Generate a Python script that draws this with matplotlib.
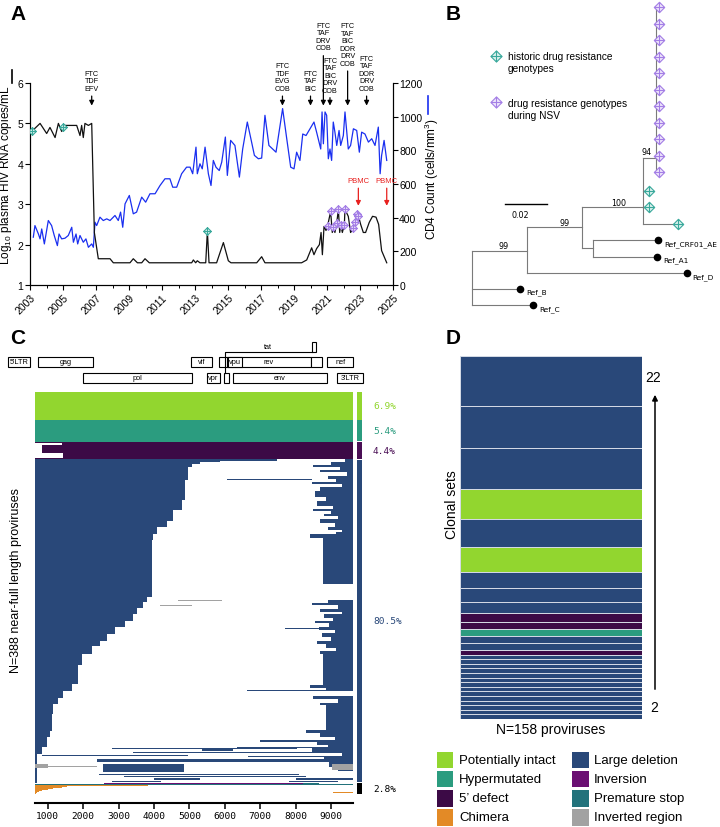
import numpy as np
import matplotlib
matplotlib.use("Agg")
from matplotlib import pyplot as plt
from matplotlib.path import Path
from matplotlib.patches import Rectangle, FancyArrowPatch
from matplotlib.lines import Line2D

plt.rcParams['font.family'] = ['Liberation Sans', 'DejaVu Sans']
plt.rcParams['mathtext.default'] = 'regular'

# ---------------- data: panel A ----------------
vl_year = [2003.10, 2003.61, 2004.01, 2004.21, 2004.52, 2004.72, 2004.92, 2005.12, 2005.42, 2005.83,
           2006.03, 2006.13, 2006.23, 2006.33, 2006.54, 2006.74, 2006.90, 2007.14, 2007.85, 2008.05,
           2009.06, 2009.26, 2009.51, 2009.77, 2009.97, 2010.23, 2012.80, 2012.90, 2013.04, 2013.14,
           2013.30, 2013.65, 2013.75, 2013.85, 2014.31, 2014.72, 2015.02, 2015.18, 2016.74, 2017.04,
           2017.24, 2019.46, 2019.77, 2020.07, 2020.21, 2020.37, 2020.54, 2020.64, 2020.72, 2020.82,
           2020.94, 2021.04, 2021.22, 2021.32, 2021.38, 2021.48, 2021.59, 2021.69, 2021.77, 2021.83,
           2021.93, 2022.05, 2022.09, 2022.29, 2022.43, 2022.60, 2022.70, 2022.80, 2022.90, 2023.04,
           2023.20, 2023.34, 2023.56, 2023.76, 2023.97, 2024.13, 2024.31, 2024.62]
vl_value = [4.80, 5.00, 4.75, 4.90, 4.65, 5.00, 4.80, 4.95, 4.95, 4.95,
            4.70, 4.95, 4.65, 5.00, 4.95, 5.00, 2.30, 1.65, 1.65, 1.55,
            1.55, 1.65, 1.55, 1.55, 1.65, 1.55, 1.55, 1.62, 1.55, 1.60,
            1.55, 1.55, 2.33, 1.55, 1.55, 2.05, 1.60, 1.55, 1.55, 1.70,
            1.55, 1.55, 1.62, 1.92, 1.75, 1.90, 2.00, 2.30, 1.75, 2.45,
            2.35, 2.47, 2.82, 2.30, 2.43, 2.30, 2.54, 2.87, 2.30, 2.49,
            2.30, 2.49, 2.87, 2.70, 2.30, 2.40, 2.57, 2.76, 2.72, 2.50,
            2.30, 2.30, 2.55, 2.70, 2.68, 2.50, 1.85, 1.55]

cd4_year = [2003.20, 2003.30, 2003.51, 2003.61, 2003.71, 2003.87, 2004.11, 2004.31, 2004.47, 2004.66,
            2004.76, 2004.92, 2005.12, 2005.32, 2005.53, 2005.63, 2005.79, 2005.89, 2006.03, 2006.23,
            2006.39, 2006.54, 2006.74, 2006.84, 2006.94, 2007.04, 2007.24, 2007.44, 2007.65, 2007.85,
            2008.15, 2008.35, 2008.49, 2008.62, 2008.76, 2009.02, 2009.26, 2009.46, 2009.77, 2010.01,
            2010.27, 2010.58, 2010.88, 2011.18, 2011.48, 2011.65, 2011.89, 2012.19, 2012.49, 2012.70,
            2012.86, 2013.06, 2013.14, 2013.30, 2013.44, 2013.61, 2013.81, 2013.97, 2014.11, 2014.27,
            2014.47, 2014.62, 2014.84, 2014.96, 2015.16, 2015.42, 2015.69, 2015.89, 2016.17, 2016.43,
            2016.60, 2016.84, 2017.04, 2017.24, 2017.48, 2017.91, 2018.31, 2018.56, 2018.80, 2019.00,
            2019.16, 2019.36, 2019.53, 2019.73, 2020.21, 2020.37, 2020.62, 2020.70, 2020.78, 2020.88,
            2020.98, 2021.08, 2021.18, 2021.28, 2021.38, 2021.48, 2021.59, 2021.73, 2021.83, 2021.99,
            2022.09, 2022.29, 2022.43, 2022.60, 2022.80, 2022.96, 2023.10, 2023.30, 2023.51, 2023.71,
            2023.91, 2024.11, 2024.22, 2024.31, 2024.46, 2024.62]
cd4_count = [284, 353, 303, 274, 333, 244, 383, 353, 294, 234,
             303, 274, 278, 294, 343, 254, 303, 244, 294, 254,
             274, 224, 244, 224, 373, 353, 403, 383, 393, 383,
             413, 383, 433, 343, 482, 532, 423, 433, 522, 492,
             542, 542, 591, 631, 631, 581, 581, 661, 700, 700,
             661, 819, 661, 720, 690, 819, 661, 591, 740, 700,
             680, 730, 879, 651, 859, 829, 641, 808, 968, 849,
             770, 750, 754, 1008, 829, 789, 1048, 869, 700, 690,
             789, 740, 897, 888, 968, 908, 808, 1028, 839, 1028,
             1008, 750, 808, 740, 968, 908, 829, 918, 829, 888,
             1028, 808, 829, 928, 918, 789, 908, 897, 849, 869,
             829, 938, 661, 770, 859, 740]

hist_year = [2003.10, 2005.02, 2013.75]
hist_vl = [4.80, 4.90, 2.33]
nsv_year = [2021.04, 2021.22, 2021.38, 2021.59, 2021.69, 2021.83, 2022.05, 2022.09, 2022.60, 2022.70, 2022.80, 2022.90]
nsv_vl = [2.47, 2.82, 2.43, 2.54, 2.87, 2.49, 2.49, 2.87, 2.40, 2.57, 2.76, 2.72]

regimen_year = [2006.74, 2018.30, 2020.00, 2020.78, 2021.18, 2022.25, 2023.40]
regimen_text = ["FTC\nTDF\nEFV", "FTC\nTDF\nEVG\nCOB", "FTC\nTAF\nBIC", "FTC\nTAF\nDRV\nCOB",
                "FTC\nTAF\nBIC\nDRV\nCOB", "FTC\nTAF\nBIC\nDOR\nDRV\nCOB", "FTC\nTAF\nDOR\nDRV\nCOB"]
regimen_text_y = [5.78, 5.78, 5.78, 6.78, 5.74, 6.40, 5.78]
pbmc_year = [2022.90, 2024.62]

# ---------------- data: panel B (tree) ----------------
# name: (parent, distance from root, row)
tree_nodes = {
    'root': (None, 0.0, 16.4),
    'n99a': ('root', 0.0264, 14.75),
    'n99b': ('n99a', 0.0531, 13.3),
    'nAE': ('n99b', 0.0584, 14.55),
    'n100': ('n99b', 0.0821, 12.08),
    'n94': ('n100', 0.0883, 9.13),
}
nsv_leaves = [('nsv%d' % i, 'n94', 0.0901, i) for i in range(11)]
hist_leaves = [('h1', 'n100', 0.0853, 11.1), ('h2', 'n100', 0.0853, 12.08), ('h3', 'n100', 0.0992, 13.13)]
ref_leaves = [('Ref_CRF01_AE', 'nAE', 0.0896, 14.08), ('Ref_A1', 'nAE', 0.0891, 15.09),
              ('Ref_D', 'n99a', 0.1032, 16.1), ('Ref_B', 'root', 0.0232, 17.03), ('Ref_C', 'root', 0.0296, 18.02)]
bootstrap = [('99', 0.0152, 14.4), ('99', 0.0448, 13.05), ('100', 0.0704, 11.8), ('94', 0.0840, 8.75)]

# ---------------- data: panel C ----------------
genome_start, genome_end = 640, 9610
gene_name = ["5'LTR", 'gag', 'vif', '', 'rev', 'vpu', '', 'nef', 'pol', 'vpr', '', 'env', "3'LTR", '']
gene_start = [-113, 734, 5037, 5844, 6053, 6098, 8433, 8893, 2005, 5505, 5985, 6222, 9176, 8453]
gene_end = [500, 2270, 5638, 6098, 8433, 6477, 8752, 9627, 5065, 5864, 6110, 8893, 9910, 8566]
gene_row = [1, 1, 1, 1, 1, 1, 1, 1, 2, 2, 2, 2, 2, 0]
tat_link_start = 5997

group_names = ['Potentially intact', 'Hypermutated', "5' defect", 'Large deletion', 'Other']
group_counts = [27, 21, 17, 312, 11]
group_pct = ['6.9%', '5.4%', '4.4%', '80.5%', '2.8%']

five_prime_start = [640, 1400, 1400, 830, 830, 830, 830, 830, 830, 830, 830, 1440, 1440, 1440, 1440, 1440, 640]

# large deletions: rows per step and end of the retained 5' part
del_rows = [2, 1, 1, 3, 13, 19, 10, 10, 6, 7, 6, 55, 5, 5, 6, 7, 6, 7, 6, 5, 8, 10, 19, 7, 6, 6,
            10, 16, 6, 10, 6, 28]
del_start = [7460, 5860, 5300, 5060, 4970, 4880, 4780, 4550, 4360, 4080, 3980, 3935, 3790, 3700, 3510,
             3420, 3180, 2900, 2665, 2476, 2240, 1960, 1865, 1680, 1440, 1300, 1160, 1110, 1064, 970,
             830, 690]
# rows per run and start of the retained 3' part
ret_rows = [3, 2, 2, 3, 2, 4, 3, 3, 2, 3,
            4, 5, 4, 5, 3, 2,
            3, 2, 3, 3, 4, 3, 2, 2,
            4, 44, 16,
            3, 2, 3, 3, 2, 4, 3, 2, 4, 3, 3, 3, 4, 3, 4, 3, 3,
            30,
            3, 3, 4, 3, 4, 2,
            24,
            3, 4, 3, 2, 3, 3, 4, 3, 3, 3,
            5, 4, 11]
ret_start = [9400, 9000, 8500, 9250, 8700, 9450, 8900, 9150, 8450, 9300,
             8700, 8550, 8850, 8600, 9050, 8500,
             9000, 8800, 9200, 8700, 9100, 8900, 9300, 9150,
             8400, 8763, 9610,
             8900, 8450, 9200, 8700, 9300, 8800, 9050, 8550, 8950, 8650, 9100, 8750, 9000, 8600, 8850, 9150, 8700,
             8763,
             8400, 8870, 9610, 8500, 9200, 8700,
             8850,
             8300, 8700, 9100, 7000, 8600, 8900, 8450, 9300, 8800, 8500,
             8950, 9200, 9610]
# extra internal segments of large-deletion rows: (row, start, end, type)
ld_extra = [(19, 6060, 8450, 'LD'), (136, 4690, 5910, 'IR'), (141, 4170, 5065, 'IR'),
            (163, 7700, 9060, 'LD'), (223, 6620, 8880, 'LD'), (278, 6340, 9610, 'LD'),
            (279, 2815, 8050, 'LD'), (280, 5360, 6230, 'LD'), (282, 3410, 9610, 'LD'),
            (285, 830, 4960, 'LD'), (286, 6660, 9610, 'LD'),
            (289, 2383, 9610, 'LD'), (290, 2383, 9610, 'LD'), (291, 2383, 9610, 'LD'),
            (294, 2552, 4848, 'LD'), (295, 2552, 4848, 'LD'), (296, 2552, 4848, 'LD'), (297, 2552, 4848, 'LD'),
            (298, 2552, 4848, 'LD'), (299, 2552, 4848, 'LD'), (300, 2552, 4848, 'LD'), (301, 2552, 4848, 'LD'),
            (294, 640, 1016, 'IR'), (295, 640, 1016, 'IR'), (296, 640, 1016, 'IR'), (297, 640, 1016, 'IR'),
            (296, 1016, 2383, 'IR'),
            (294, 9017, 9610, 'IR'), (295, 9017, 9610, 'IR'), (296, 9017, 9610, 'IR'),
            (297, 9017, 9610, 'IR'), (298, 9017, 9610, 'IR'), (299, 9017, 9610, 'IR'),
            (304, 2460, 8080, 'LD'), (306, 3150, 8300, 'LD'), (308, 4000, 5300, 'LD'),
            (308, 8000, 9610, 'LD'), (310, 2800, 4200, 'LD'), (310, 7800, 9200, 'LD')]
# remaining proviruses (inversion, premature stop, chimera)
other_segs = [(0, 2600, 8200, 'INV'), (0, 8200, 8650, 'PS'), (1, 640, 9610, 'PS'),
              (2, 640, 3830, 'CH'), (3, 640, 1550, 'CH'), (4, 640, 1400, 'CH'), (5, 640, 1150, 'CH'),
              (6, 640, 1000, 'CH'), (7, 640, 850, 'CH'), (8, 640, 760, 'CH'), (9, 640, 700, 'CH'),
              (9, 9050, 9610, 'CH'), (10, 640, 660, 'CH')]

# ---------------- data: panel D ----------------
clone_size = [22, 18, 18, 13, 12, 11, 7, 6, 5, 4, 3, 3, 3, 3, 2] + [2] * 14
clone_type = ['LD', 'LD', 'LD', 'PI', 'LD', 'PI', 'LD', 'LD', 'LD', 'FD', 'FD', 'HM', 'LD', 'LD', 'FD'] + ['LD'] * 14

legend_keys = ['PI', 'HM', 'FD', 'CH', 'LD', 'INV', 'PS', 'IR']
legend_labels = ['Potentially intact', 'Hypermutated', '5\u2019 defect', 'Chimera',
                 'Large deletion', 'Inversion', 'Premature stop', 'Inverted region']

colors = {'PI': '#92d62f', 'HM': '#2b9c7f', 'FD': '#3c0a46', 'CH': '#e38a26',
          'LD': '#294879', 'INV': '#6b0f73', 'PS': '#22727b', 'IR': '#a2a2a2'}

# ---------------- layout helpers (pixels) ----------------
W, H = 720, 828


def fx(x):
    return x / W


def fy(y):
    return 1 - y / H


def box(x0, y0, x1, y1):
    return [fx(x0), fy(y1), (x1 - x0) / W, (y1 - y0) / H]


diamond_cross = Path([(0, 1), (1, 0), (0, -1), (-1, 0), (0, 1), (0, 1), (0, -1), (-1, 0), (1, 0)],
                     [Path.MOVETO, Path.LINETO, Path.LINETO, Path.LINETO, Path.CLOSEPOLY,
                      Path.MOVETO, Path.LINETO, Path.MOVETO, Path.LINETO])
teal_m = dict(marker=diamond_cross, mfc='#dcf2ee', mec='#3aa99c', mew=0.8, ls='none')
purple_m = dict(marker=diamond_cross, mfc='#efe6fb', mec='#a47fe6', mew=0.8, ls='none')

fig = plt.figure(figsize=(7.2, 8.28), dpi=100)

# ================= Panel A =================
ax = fig.add_axes(box(30, 84, 393, 286))
ax2 = ax.twinx()
ax.set_zorder(ax2.get_zorder() + 1)
ax.patch.set_visible(False)

ax2.plot(cd4_year, cd4_count, color='#1a2ff0', lw=0.9)
ax.plot(vl_year, vl_value, color='#111111', lw=0.9, zorder=3)
ax.plot(hist_year, hist_vl, ms=5.5, zorder=5, **teal_m)
ax.plot(nsv_year, nsv_vl, ms=5.5, zorder=5, **purple_m)

ax.set_xlim(2003, 2025)
ax.set_ylim(1, 6)
ax2.set_ylim(0, 1200)
ax.set_xticks(range(2003, 2026, 2))
ax.set_xticks(range(2003, 2026), minor=True)
ax.set_xticklabels([str(y) for y in range(2003, 2026, 2)], rotation=45, ha='right',
                   rotation_mode='anchor', fontsize=7.5)
ax.set_yticks(range(1, 7))
ax2.set_yticks(range(0, 1201, 200))
ax.tick_params(axis='both', labelsize=7.5, length=3.5, width=0.8, pad=1.5)
ax.tick_params(axis='x', which='minor', length=2, width=0.7)
ax2.tick_params(axis='y', labelsize=7.5, length=3.5, width=0.8, pad=1)
for a in (ax, ax2):
    a.spines['top'].set_visible(False)
    for s in ('left', 'right', 'bottom'):
        a.spines[s].set_linewidth(0.8)

ax.set_ylabel('Log$_{10}$ plasma HIV RNA copies/mL', fontsize=8.5)
ax.yaxis.set_label_coords(-0.043, 0.55)
ax2.set_ylabel('CD4 Count (cells/mm$^3$)', fontsize=8.5, rotation=90)
ax2.yaxis.set_label_coords(1.082, 0.53)
fig.add_artist(Line2D([fx(12), fx(12)], [fy(71), fy(84)], color='k', lw=1.2, transform=fig.transFigure))
fig.add_artist(Line2D([fx(428), fx(428)], [fy(97), fy(115)], color='#1a2ff0', lw=1.2, transform=fig.transFigure))

for yr, txt, ty in zip(regimen_year, regimen_text, regimen_text_y):
    ax.annotate(txt, xy=(yr, 5.44), xytext=(yr, ty), ha='center', va='bottom', fontsize=5.2,
                linespacing=1.1, annotation_clip=False,
                arrowprops=dict(arrowstyle='-|>', color='k', lw=0.9, shrinkA=1, shrinkB=0,
                                mutation_scale=7))
for yr in pbmc_year:
    ax.annotate('PBMC', xy=(yr, 2.96), xytext=(yr, 3.5), ha='center', va='bottom', fontsize=5.5,
                color='#e8201e', annotation_clip=False,
                arrowprops=dict(arrowstyle='-|>', color='#e8201e', lw=0.9, shrinkA=1, shrinkB=0,
                                mutation_scale=7))

# ================= Panel B =================
axb = fig.add_axes(box(420, 0, 720, 320))
axb.set_xlim(-0.02482, 0.11918)
axb.set_ylim(18.87, -0.502)
axb.axis('off')

all_nodes = dict(tree_nodes)
for name, par, d, r in nsv_leaves + hist_leaves + ref_leaves:
    all_nodes[name] = (par, d, r)
children = {}
for name, (par, d, r) in all_nodes.items():
    if par is not None:
        children.setdefault(par, []).append(r)
        axb.plot([all_nodes[par][1], d], [r, r], color='#7a7a7a', lw=0.8)
for par, rows in children.items():
    axb.plot([all_nodes[par][1]] * 2, [min(rows), max(rows)], color='#7a7a7a', lw=0.8)

axb.plot([l[2] for l in nsv_leaves], [l[3] for l in nsv_leaves], ms=7.5, zorder=4, **purple_m)
axb.plot([l[2] for l in hist_leaves], [l[3] for l in hist_leaves], ms=7.5, zorder=4, **teal_m)
axb.plot([l[2] for l in ref_leaves], [l[3] for l in ref_leaves], 'o', color='k', ms=4.5, zorder=4)
for name, par, d, r in ref_leaves:
    axb.text(d + 0.0028, r + 0.2, name, fontsize=5.3, family='DejaVu Sans', va='center', ha='left')
for lab, d, r in bootstrap:
    axb.text(d, r, lab, fontsize=5.8, family='DejaVu Sans', ha='center', va='center')
axb.plot([0.016, 0.036], [11.92, 11.92], color='k', lw=1.0)
axb.text(0.0235, 12.55, '0.02', fontsize=5.8, family='DejaVu Sans', ha='center', va='center')

fig.add_artist(Line2D([fx(496)], [fy(57)], ms=8, transform=fig.transFigure, **teal_m))
fig.add_artist(Line2D([fx(496)], [fy(103)], ms=8, transform=fig.transFigure, **purple_m))
fig.text(fx(508), fy(63.5), 'historic drug resistance\ngenotypes', fontsize=7.3, va='center', linespacing=1.25)
fig.text(fx(508), fy(110), 'drug resistance genotypes\nduring NSV', fontsize=7.3, va='center', linespacing=1.25)

# ================= Panel C =================
px_per_bp = 0.03542
axg = fig.add_axes(box(0, 336, 370, 390))
axg.set_xlim(-12.3 / px_per_bp, (370 - 12.3) / px_per_bp)
axg.set_ylim(390, 336)
axg.axis('off')
row_top = {0: 342.5, 1: 357.5, 2: 373.5}
for name, s, e, r in zip(gene_name, gene_start, gene_end, gene_row):
    axg.add_patch(Rectangle((s, row_top[r]), e - s, 10.5, facecolor='white', edgecolor='k', lw=0.8))
    if name:
        axg.text((s + e) / 2, row_top[r] + 5.3, name, fontsize=5.3, ha='center', va='center')
axg.plot([tat_link_start, tat_link_start, gene_start[-1]],
         [row_top[2], row_top[0] + 10.5, row_top[0] + 10.5], color='k', lw=0.8)
axg.text((tat_link_start + gene_start[-1]) / 2, 348, 'tat', fontsize=5.3, ha='center', va='center')

axc = fig.add_axes(box(35, 393, 352.7, 804))
axc.set_xlim(genome_start, genome_end)
n_total = sum(group_counts)
axc.set_ylim(n_total + 9 / 1.036, 0)

seg_row, seg_left, seg_width, seg_color = [], [], [], []


def add_seg(r, s, e, key):
    seg_row.append(r)
    seg_left.append(s)
    seg_width.append(e - s)
    seg_color.append(colors[key])


row = 0
for k in range(group_counts[0]):
    add_seg(row, genome_start, genome_end, 'PI')
    row += 1
for k in range(group_counts[1]):
    add_seg(row, genome_start, genome_end, 'HM')
    row += 1
for s in five_prime_start:
    add_seg(row, s, genome_end, 'FD')
    row += 1
ld0 = row
left_end = np.repeat(del_start, del_rows)
right_start = np.repeat(ret_start, ret_rows)
for k in range(group_counts[3]):
    add_seg(ld0 + k, genome_start, left_end[k], 'LD')
    if right_start[k] < genome_end:
        add_seg(ld0 + k, right_start[k], genome_end, 'LD')
for r, s, e, key in ld_extra:
    add_seg(ld0 + r, s, e, key)
oth0 = ld0 + group_counts[3]
for r, s, e, key in other_segs:
    add_seg(oth0 + r, s, e, key)

axc.barh(seg_row, seg_width, left=seg_left, height=1.03, color=seg_color, linewidth=0,
         align='edge', antialiased=False)

for s in ('top', 'right', 'left'):
    axc.spines[s].set_visible(False)
axc.spines['bottom'].set_linewidth(1.5)
axc.set_yticks([])
axc.set_xticks(range(1000, 9001, 1000))
axc.tick_params(axis='x', length=4, width=1.1, pad=2)
for lab in axc.get_xticklabels():
    lab.set_fontfamily('DejaVu Sans Mono')
    lab.set_fontsize(6.8)
axc.set_ylabel('N=388 near-full length proviruses', fontsize=9)
axc.yaxis.set_label_coords(-0.041, 0.545)

# side bar with group percentages
bar_x0 = genome_start + (357.5 - 35) / px_per_bp
bar_w = 4.6 / px_per_bp
text_x = genome_start + (373 - 35) / px_per_bp
side_colors = [colors['PI'], colors['HM'], '#4a0f55', colors['LD'], 'black']
start = 0
for cnt, pct, col in zip(group_counts, group_pct, side_colors):
    axc.add_patch(Rectangle((bar_x0, start + 0.3), bar_w, cnt - 0.6, facecolor=col, lw=0, clip_on=False))
    axc.text(text_x, start + cnt / 2, pct, color=col, fontsize=6.8, family='DejaVu Sans Mono',
             va='center', ha='left', clip_on=False)
    start += cnt

# ================= Panel D =================
axd = fig.add_axes(box(460, 356.7, 642, 720))
tops = sum(clone_size) - np.concatenate([[0], np.cumsum(clone_size)[:-1]])
axd.bar(np.zeros(len(clone_size)), clone_size, bottom=tops - np.array(clone_size), width=1,
        color=[colors[t] for t in clone_type], edgecolor='#d5dbe6', linewidth=0.7)
axd.set_xlim(-0.5, 0.5)
axd.set_ylim(0, sum(clone_size))
axd.axis('off')
fig.add_artist(FancyArrowPatch((fx(655), fy(693)), (fx(655), fy(393)), transform=fig.transFigure,
                               arrowstyle='-|>', mutation_scale=8, lw=1.1, color='k'))
fig.text(fx(653), fy(378), str(max(clone_size)), fontsize=10, ha='center', va='center')
fig.text(fx(654), fy(708), str(min(clone_size)), fontsize=10, ha='center', va='center')
fig.text(fx(452), fy(505), 'Clonal sets', fontsize=10, rotation=90, ha='center', va='center')
fig.text(fx(551), fy(730), 'N=%d proviruses' % sum(clone_size), fontsize=10, ha='center', va='center')

# legend
for i, (key, lab) in enumerate(zip(legend_keys, legend_labels)):
    col, rr = divmod(i, 4)
    x0 = 437 if col == 0 else 572
    yc = 761 + rr * 19.1
    fig.add_artist(Rectangle((fx(x0), fy(yc + 8.3)), 16.5 / W, 16.6 / H, facecolor=colors[key],
                             lw=0, transform=fig.transFigure))
    fig.text(fx(x0 + 22), fy(yc), lab, fontsize=9.5, va='center', ha='left')

# panel letters
for letter, (x, y) in zip('ABCD', [(18, 15), (453, 15), (18, 338), (453, 338)]):
    fig.text(fx(x), fy(y), letter, fontsize=15, fontweight='bold', ha='center', va='center')

fig.savefig('out.png', dpi=100)
